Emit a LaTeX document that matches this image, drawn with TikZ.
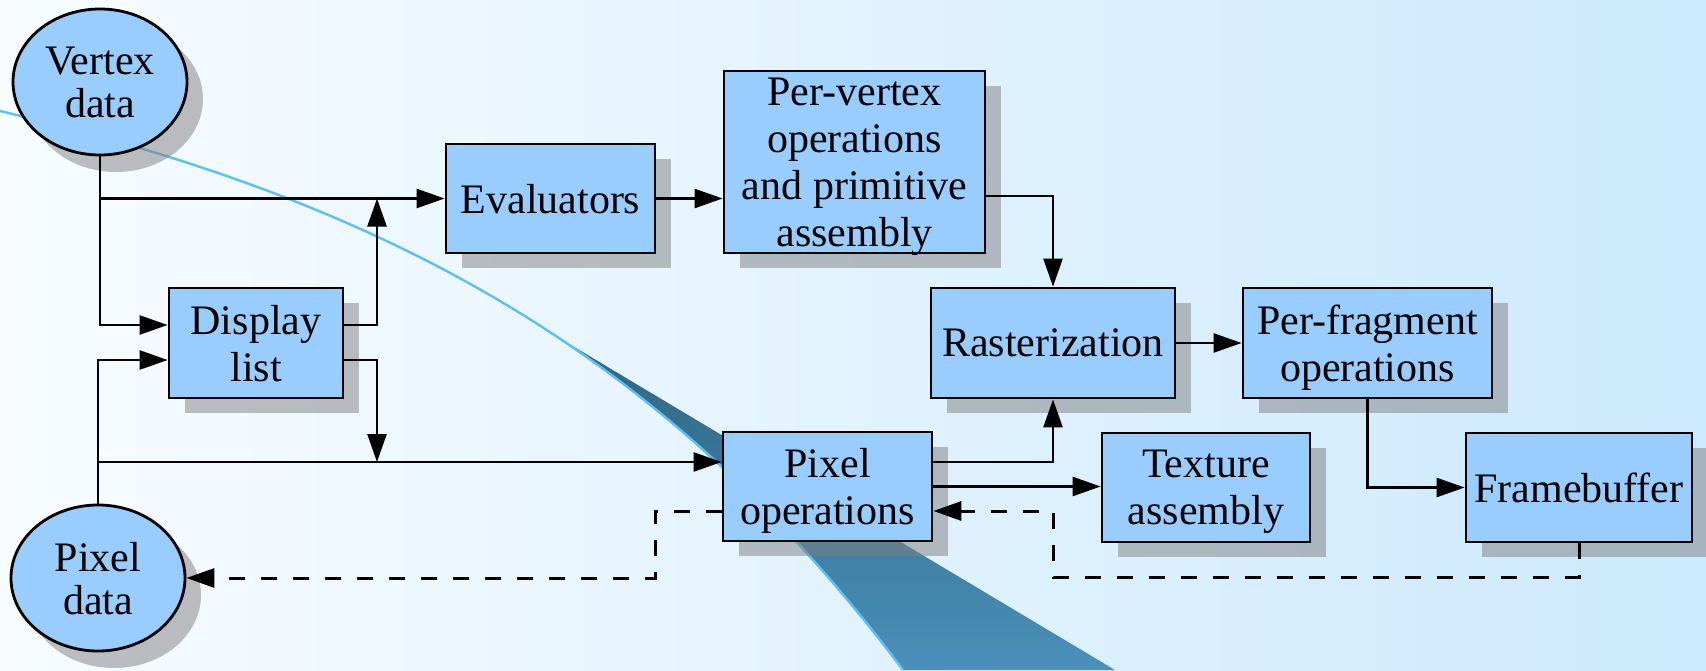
\documentclass[tikz,border=0pt]{standalone}
\usepackage{fontspec}
\setmainfont{Liberation Serif}
\usetikzlibrary{shapes.geometric,arrows.meta,shadows,calc}
\definecolor{boxfill}{HTML}{99CCFF}
\definecolor{bgl}{HTML}{F8FCFF}
\definecolor{bgr}{HTML}{CCE9FD}
\definecolor{curveblue}{HTML}{5CC0F2}
\definecolor{swdark}{HTML}{14394F}
\definecolor{swlight}{HTML}{4A90B8}
\begin{document}
\begin{tikzpicture}[x=1pt,y=-1pt,
  font=\fontsize{42}{47}\selectfont,
  myshadow/.style={drop shadow={shadow xshift=16pt, shadow yshift=-15pt, fill=black!50, opacity=0.5}},
  stepbox/.style={rectangle, draw=black, line width=2.8pt, fill=boxfill, inner sep=0pt, align=center, text depth=0pt, myshadow},
  datanode/.style={ellipse, draw=black, line width=2.8pt, fill=boxfill, inner sep=0pt,
    minimum width=174pt, minimum height=146pt, align=center, text depth=0pt,
    drop shadow={shadow xshift=16pt, shadow yshift=-17pt, fill=black!50, opacity=0.5}},
  conn/.style={line width=2.5pt, -{Triangle[length=28pt,width=19pt]}},
  dconn/.style={conn, line width=3pt, dash pattern=on 16pt off 16pt},
]
\useasboundingbox (0,0) rectangle (1706,670);
\shade[left color=bgl, right color=bgr] (0,0) rectangle (1706,670);

% decorative swoosh
\begin{scope}
  \clip (557.5,0) rectangle (1706,670);
  \shade[top color=swdark, bottom color=swlight]
    (0,111) .. controls (400,205) and (670,360) .. (903,670) -- (1115,670) -- (0,4) -- cycle;
\end{scope}
\draw[curveblue, line width=2.4pt] (0,111) .. controls (400,205) and (670,360) .. (903,670);

% nodes
\node[datanode] (vd) at (100,82) {Vertex\\[-4pt]data};
\node[datanode] (pd) at (98,578) {Pixel\\[-4pt]data};
\node[stepbox, minimum width=174pt, minimum height=110pt] (disp) at (256,343) {Display\\list};
\node[stepbox, minimum width=209pt, minimum height=109pt] (eval) at (550.5,198.5) {Evaluators};
\node[stepbox, minimum width=261pt, minimum height=182pt] (pv) at (854.5,162) {Per-vertex\\operations\\and primitive\\assembly};
\node[stepbox, minimum width=244pt, minimum height=110pt] (rast) at (1053,343) {Rasterization};
\node[stepbox, minimum width=249pt, minimum height=110pt] (pf) at (1367.5,343) {Per-fragment\\operations};
\node[stepbox, minimum width=209pt, minimum height=109pt] (po) at (827.5,486.5) {Pixel\\operations};
\node[stepbox, minimum width=208pt, minimum height=109pt] (tex) at (1206,487.5) {Texture\\assembly};
\node[stepbox, minimum width=226pt, minimum height=109pt] (fb) at (1579,487.5) {Framebuffer};

% junction coordinates
\coordinate (j1) at (377,198.5);
\coordinate (j2) at (377,462);
\coordinate (f1) at (1053,577);
\coordinate (f2) at (655,511);

% connectors
\draw[conn] (vd.south) |- (disp.west |- 0,325);
\draw[conn] (vd.south |- eval.west) -- (eval.west);
\draw[conn] (disp.east |- 0,325) -| (j1);
\draw[conn] (pd.north) |- (disp.west |- 0,360);
\draw[conn] (pd.north |- j2) -- (po.west |- j2);
\draw[conn] (disp.east |- 0,360) -| (j2);
\draw[conn] (eval.east) -- (pv.west |- eval.east);
\draw[conn] (pv.east |- 0,196) -| (rast.north);
\draw[conn] (rast.east) -- (pf.west);
\draw[conn] (po.east |- j2) -| (rast.south);
\draw[conn] (po.east) -- (tex.west |- po.east);
\draw[conn] (pf.south) |- (fb.west);
\draw[dconn] (fb.south) |- (f1) |- (po.east |- f2);
\draw[dconn] (po.west |- f2) -- (f2) |- (pd.east);
\end{tikzpicture}
\end{document}
